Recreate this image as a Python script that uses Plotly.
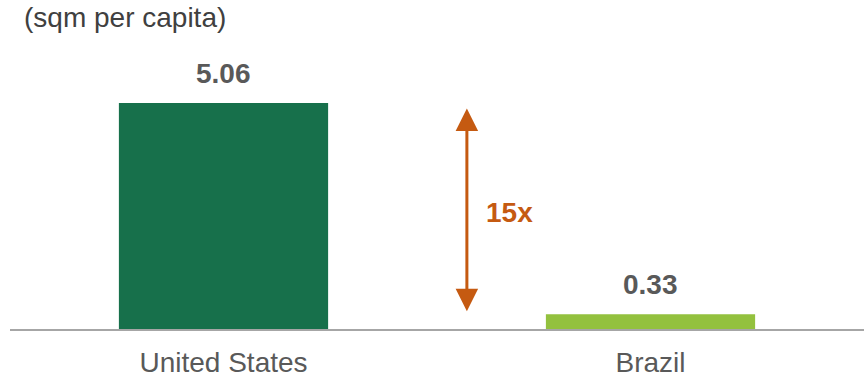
import plotly.graph_objects as go

categories = ["United States", "Brazil"]
values = [5.06, 0.33]
bar_colors = ["#17704B", "#93C13E"]
value_labels = ["5.06", "0.33"]
ratio_label = "15x"
unit_label = "(sqm per capita)"

FONT = "Liberation Sans, Arial, sans-serif"
GRAY = "#595959"
ORANGE = "#C55A11"

fig = go.Figure()
fig.add_trace(go.Bar(
    x=categories, y=values, marker_color=bar_colors, width=0.49,
    marker_line_width=0, hoverinfo="skip",
))

for c, v, t in zip(categories, values, value_labels):
    fig.add_annotation(x=c, y=v, text=f"<b>{t}</b>", showarrow=False,
                       yanchor="middle", yshift=30,
                       font=dict(family=FONT, size=28, color=GRAY))

# double-headed arrow between the bars
fig.add_annotation(x=0.57, y=0.40, ax=0.57, ay=4.97, xref="x", yref="y",
                   axref="x", ayref="y", text="", showarrow=True,
                   arrowhead=2, arrowside="end+start", arrowsize=1.5,
                   arrowwidth=3, arrowcolor=ORANGE)
fig.add_annotation(x=0.57, y=2.6, xref="x", yref="y", text=f"<b>{ratio_label}</b>",
                   showarrow=False, xanchor="left", xshift=17,
                   font=dict(family=FONT, size=28, color=ORANGE))

fig.add_annotation(
    x=(22 - 10) / 854, y=1 + (60 - 18) / 269, xref="paper", yref="paper",
    text=unit_label, showarrow=False, xanchor="left", yanchor="middle",
    font=dict(family=FONT, size=28, color="#404040"),
)

fig.update_layout(
    width=864, height=378,
    margin=dict(l=10, r=0, t=60, b=49, autoexpand=False),
    plot_bgcolor="white", paper_bgcolor="white",
    showlegend=False,
    xaxis=dict(showline=True, linecolor="#A6A6A6", linewidth=2,
               tickfont=dict(family=FONT, size=28, color=GRAY),
               ticks="", ticklabelstandoff=7, range=[-0.5, 1.5], fixedrange=True),
    yaxis=dict(range=[0, 6.023], visible=False, showgrid=False, zeroline=False,
               fixedrange=True),
)

fig.write_html("out.html", config={"displayModeBar": False},
               post_script="document.body.style.margin='0';")
